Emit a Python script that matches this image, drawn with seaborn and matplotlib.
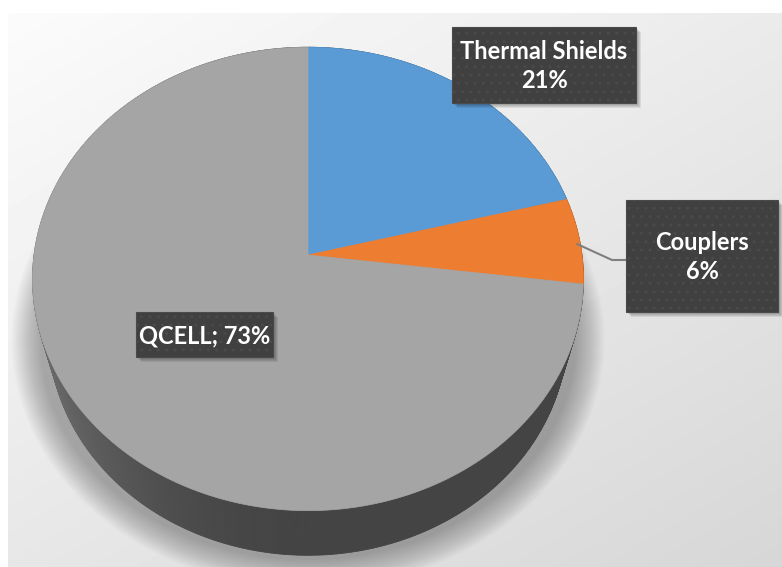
import numpy as np
import matplotlib
matplotlib.use("Agg")
import matplotlib.pyplot as plt
from matplotlib.patches import Rectangle, Ellipse
from matplotlib.collections import PolyCollection
from matplotlib.colors import to_rgb
import seaborn as sns

# data
labels = ["Thermal Shields", "Couplers", "QCELL"]
values = [21, 6, 73]
colors = sns.color_palette(["#5B9BD5", "#ED7D31", "#A5A5A5"])

sns.set_theme(style="white")
plt.rcParams["font.family"] = ["Lato", "DejaVu Sans"]
plt.rcParams["hatch.color"] = "#4c4c4c"

W, H = 782, 567
fig = plt.figure(figsize=(W / 100, H / 100), dpi=100)
fig.patch.set_facecolor("white")
ax = fig.add_axes([0, 0, 1, 1])

# background gradient (white top-left -> light grey bottom-right)
yy, xx = np.mgrid[13:H, 8:W]
t = 0.45 * (xx - 8) / (W - 8) + 0.55 * (yy - 13) / (H - 13)
bg = 0.985 - 0.145 * t
ax.imshow(bg, cmap="gray", vmin=0, vmax=1, extent=(8, W, H, 13),
          zorder=0, interpolation="bilinear", aspect="auto")

# perspective projection of the 3D pie
cx, cy = 308, 255
S, D = 1452, 5.3
elev = np.radians(56.8)
thick = 0.39


def proj(theta, z=0.0):
    X, Y = np.cos(theta), np.sin(theta)
    depth = D + Y * np.cos(elev) - z * np.sin(elev)
    up = Y * np.sin(elev) + z * np.cos(elev)
    return cx + S * X / depth, cy - S * up / depth


# soft shadow below the pie
for k in range(20):
    ax.add_patch(Ellipse((308, 340), 536 + 3 * k, 440 + 3 * k,
                         color="black", alpha=0.017, lw=0, zorder=1))

fracs = np.array(values) / sum(values)
bounds = 90 - 360 * np.concatenate([[0], np.cumsum(fracs)])

# side wall
quads, qcols, order = [], [], []
for i in range(len(values)):
    a0, a1 = bounds[i], bounds[i + 1]
    n = max(2, int((a0 - a1) * 2))
    th = np.radians(np.linspace(a1, a0, n + 1))
    base = np.array(to_rgb(colors[i]))
    for t0, t1 in zip(th[:-1], th[1:]):
        xt, yt = proj(np.array([t0, t1]))
        xb, yb = proj(np.array([t1, t0]), -thick)
        quads.append(list(zip(np.r_[xt, xb], np.r_[yt, yb])))
        tm = 0.5 * (t0 + t1)
        f = 0.43 + 0.28 * max(0.0, -np.cos(tm)) ** 2
        qcols.append(np.clip(base * f / base.mean() * 0.62, 0, 1))
        order.append(-np.sin(tm))
idx = np.argsort(order)
pc = PolyCollection([quads[j] for j in idx], facecolors=[qcols[j] for j in idx],
                    edgecolors=[qcols[j] for j in idx], linewidths=0.6, zorder=2)
ax.add_collection(pc)

# top face
for i in range(len(values)):
    th = np.radians(np.linspace(bounds[i], bounds[i + 1], 200))
    px, py = proj(th)
    ax.fill(np.r_[cx, px], np.r_[cy, py], color=colors[i], lw=0.5,
            ec=colors[i], zorder=3)

# leader line for Couplers
ax.plot([577, 612, 626], [244, 260, 260], color="#7f7f7f", lw=1.5, zorder=4)

# data labels
boxes = [(452, 27, 184, 76), (626, 200, 152, 112), (136, 312, 137, 45)]
texts = [f"{labels[0]}\n{values[0]}%", f"{labels[1]}\n{values[1]}%",
         f"{labels[2]}; {values[2]}%"]
for (bx, by, bw, bh), t in zip(boxes, texts):
    for k in range(4):
        ax.add_patch(Rectangle((bx + 2 + k, by + 2 + k), bw, bh, color="black",
                               alpha=0.08, lw=0, zorder=5))
    ax.add_patch(Rectangle((bx, by), bw, bh, facecolor="#404040",
                           edgecolor="#4a4a4a", lw=0.8, hatch="..", zorder=6))
    ax.text(bx + bw / 2, by + bh / 2 + 1, t, ha="center", va="center",
            color="white", fontsize=17, fontweight="bold",
            linespacing=1.3, zorder=7)

ax.set_xlim(0, W)
ax.set_ylim(H, 0)
ax.axis("off")
fig.savefig("out.png", dpi=100)
